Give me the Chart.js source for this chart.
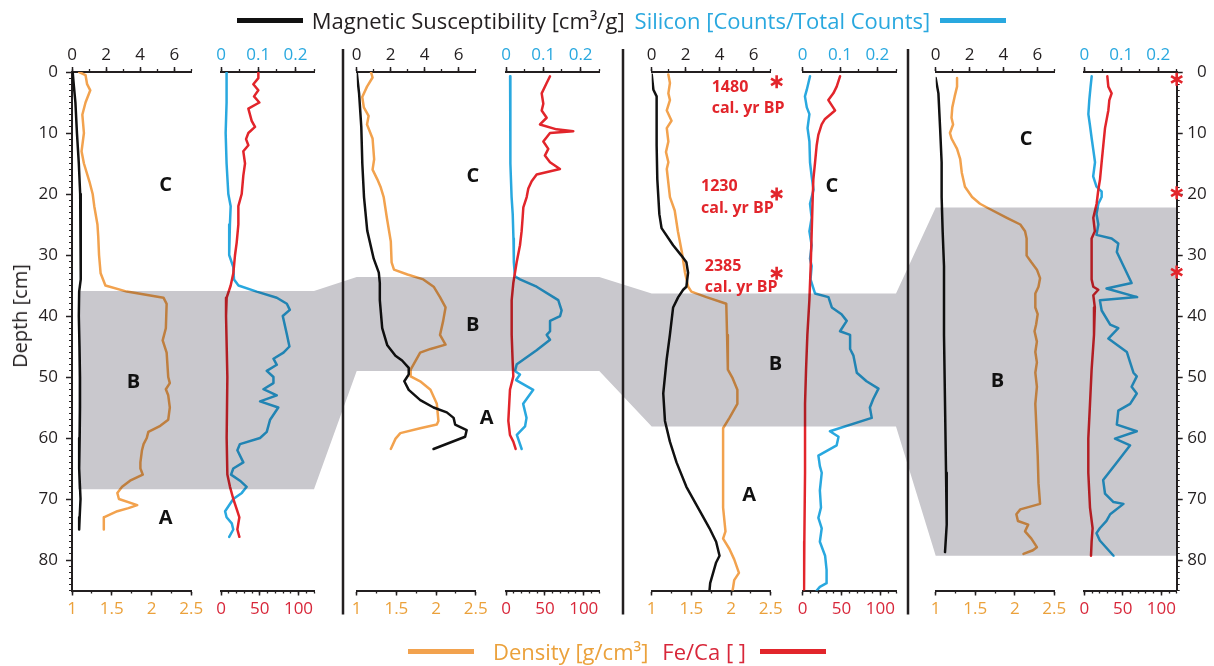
<!DOCTYPE html>
<html lang="en">
<head>
<meta charset="utf-8">
<title>Sediment core profiles</title>
<script src="https://cdn.jsdelivr.net/npm/chart.js@4.4.1/dist/chart.umd.min.js"></script>
<style>
  html, body { margin:0; padding:0; background:#ffffff; }
  #wrap { position:relative; width:1214px; height:666px; overflow:hidden; font-family:'Open Sans', sans-serif; }
  #wrap canvas { position:absolute; left:0; top:0; width:1214px; height:666px; }
  .panel { mix-blend-mode:multiply; z-index:1; }
  #bandCanvas { z-index:0; }
  #noteCanvas { z-index:2; }
  .legend { position:absolute; left:0; display:flex; justify-content:center; align-items:center; white-space:nowrap; font-size:22px; line-height:30px; z-index:3; }
  .sw { display:inline-block; width:66px; height:5px; }
  #ytitle { position:absolute; left:20px; top:316px; transform:translate(-50%,-50%) rotate(-90deg); font-size:20px; line-height:1; color:#231f20; white-space:nowrap; z-index:3; }
</style>
</head>
<body>
<div id="wrap">
  <canvas id="bandCanvas" width="1214" height="666"></canvas>
  <canvas class="panel" id="p0" width="1214" height="666"></canvas>
  <canvas class="panel" id="p1" width="1214" height="666"></canvas>
  <canvas class="panel" id="p2" width="1214" height="666"></canvas>
  <canvas class="panel" id="p3" width="1214" height="666"></canvas>
  <canvas class="panel" id="p4" width="1214" height="666"></canvas>
  <canvas class="panel" id="p5" width="1214" height="666"></canvas>
  <canvas class="panel" id="p6" width="1214" height="666"></canvas>
  <canvas class="panel" id="p7" width="1214" height="666"></canvas>
  <canvas id="noteCanvas" width="1214" height="666"></canvas>
  <div class="legend" style="top:5px;width:1243px;">
    <span class="sw" style="background:#111111;"></span>
    <span style="color:#231f20;margin:0 10px 0 9px;">Magnetic Susceptibility [cm³/g]</span>
    <span style="color:#29a8df;margin-right:10px;">Silicon [Counts/Total Counts]</span>
    <span class="sw" style="background:#29a8df;"></span>
  </div>
  <div class="legend" style="top:636px;width:1234px;">
    <span class="sw" style="background:#f2a24e;"></span>
    <span style="color:#eba13b;margin:0 14px 0 19px;">Density [g/cm³]</span>
    <span style="color:#d8273a;margin-right:14px;">Fe/Ca [ ]</span>
    <span class="sw" style="background:#e2252b;"></span>
  </div>
  <div id="ytitle">Depth [cm]</div>
</div>
<script>
// ---------------- DATA ----------------
// Core 1
const c1MsDepth  = [0,2,5,10,15,20,25,30,34,36,40,45,50,55,60,65,70,73,75];
const c1Ms       = [0.04,0.1,0.2,0.29,0.4,0.48,0.5,0.52,0.52,0.42,0.4,0.44,0.47,0.47,0.45,0.42,0.5,0.45,0.42];
const c1DenDepth = [0,0.5,2,3,5,7,10,13,15,18,20,22,25,27,30,33,35,36,37,38,42,44,46,50,51,52,53,55,57,58,59,60,61,62,64,65,66,67,68,69,70,71,71.5,72,73,75];
const c1Den      = [1.09,1.17,1.19,1.23,1.17,1.13,1.15,1.12,1.15,1.22,1.26,1.28,1.32,1.33,1.34,1.36,1.42,1.69,2.15,2.19,2.18,2.14,2.19,2.21,2.23,2.18,2.21,2.23,2.21,2.11,1.96,1.94,1.9,1.88,1.86,1.86,1.89,1.73,1.63,1.57,1.59,1.82,1.71,1.57,1.4,1.4];
const c1SiDepth  = [0,5,10,15,20,22,25,30,32,34,35,36,37,38,39,40,43,45,46,47,48,49,50,51,52,53,54,55,57,59,60,61,62,64,65,66,67,68,69,70,72,73,74,75,76.2];
const c1Si       = [0.015,0.015,0.0125,0.015,0.0197,0.026,0.024,0.022,0.033,0.035,0.047,0.096,0.15,0.177,0.185,0.166,0.177,0.184,0.168,0.141,0.15,0.123,0.141,0.141,0.114,0.15,0.105,0.154,0.132,0.123,0.105,0.051,0.044,0.06,0.033,0.027,0.051,0.069,0.056,0.033,0.011,0.015,0.029,0.033,0.022];
const c1FeDepth  = [0,1,2,3,4,5,6,8,9,10,11,12,13,15,17,20,22,25,28,30,33,35,37,40,50,60,66,68,70,72,73,74,75,76.2];
const c1Fe       = [48.2,48.2,41.7,48.2,42.6,49.5,35.3,39.6,43.9,35.3,32.3,35.3,28.8,31,28.8,26.7,22.4,22.4,20.2,18.1,15.9,12.5,7.3,6.5,8.2,7.3,8.2,11.6,15.9,21.1,23.7,22.4,21.1,23.7];
// Core 2
const c2MsDepth  = [0,3.5,9,15,20.5,26,30.6,32.9,34.6,37.4,42,44.8,46.5,47.3,48.5,49.6,50.7,52.1,53.8,55,55.8,56.7,57.8,58.7,59.8,61.8];
const c2Ms       = [0,0.14,0.27,0.33,0.43,0.62,1.0,1.3,1.36,1.36,1.5,1.8,2.28,2.67,3.06,3.06,2.8,3.06,3.74,4.52,5.3,5.7,5.79,6.47,6.38,4.52];
const c2DenDepth = [0,0.9,2.4,4.1,5.8,7.2,8.6,10.9,14.3,16,17.6,18.8,20.5,23.9,27.8,31.2,32.4,33.2,34,35.2,36.9,38.6,40.8,43.1,44.7,45.4,46,48.8,49.9,50.7,52.1,54.4,57.2,57.8,58.4,59.2,60.1,61.8];
const c2Den      = [1.18,1.2,1.13,1.07,1.09,1.15,1.13,1.2,1.22,1.2,1.26,1.3,1.34,1.38,1.43,1.44,1.47,1.64,1.84,1.97,2.05,2.12,2.09,2.05,2.12,1.93,1.8,1.68,1.68,1.8,1.93,2.01,2.03,2.01,1.8,1.55,1.49,1.43];
const c2SiDepth  = [0.7,9,15,20.5,23.3,27.3,31.2,33.5,34,35.2,36.9,37.4,39.1,40,40.8,42.5,43.1,43.9,45.6,47.9,49,49.6,50.5,52.1,54.4,56.7,58.1,59.5,61.8];
const c2Si       = [0.011,0.0125,0.011,0.015,0.018,0.02,0.021,0.024,0.0375,0.082,0.127,0.14,0.149,0.145,0.118,0.118,0.109,0.118,0.082,0.029,0.024,0.0375,0.027,0.073,0.046,0.055,0.051,0.029,0.042];
const c2FeDepth  = [0.7,1.8,3.5,5.2,6.3,7.5,8.6,9.4,9.7,10,11.4,12.6,13.7,14.8,15.9,16.8,17.9,19.1,20.5,22.2,23.9,26.1,28.4,31.2,34.6,37.4,43.1,47.6,49.9,52.1,57.2,59.5,60.6,61.8];
const c2Fe       = [56.6,52.3,45.9,48,45.9,52.3,43.7,65,86.6,56.6,48,54.4,50,56.6,69.4,39.4,33,28.7,26.6,22.3,21.4,20.1,18,13.7,9.4,7.3,7.3,8.6,9.4,5.1,3,5.1,9.4,12.4];
// Core 3
const c3MsDepth  = [0.4,2.9,4,12,17.6,23.3,25.6,28.4,30.1,31.2,32.9,35.2,35.7,36.9,38.6,43.1,47.1,52.7,57.2,60.6,64,68,71.9,74.8,77,79.3,80.4,83.8,85];
const c3Ms       = [0,0.1,0.29,0.29,0.33,0.45,0.58,1.26,1.75,2.04,2.14,2.04,1.85,1.56,1.26,1.07,0.88,0.68,0.78,1.07,1.46,2.04,2.82,3.4,3.79,3.99,3.79,3.44,3.4];
const c3DenDepth = [0.4,1.8,3.5,4.6,6.3,8,9.2,11.4,13.1,14.8,15.9,20.5,22.7,26.1,29.5,32.9,35.2,36,36.9,38,43.1,48.8,50.2,52.1,54.4,56.7,58.4,65.7,71.4,75.3,76.5,78.2,79.9,82.1,83.3,85];
const c3Den      = [1.21,1.23,1.21,1.23,1.19,1.25,1.19,1.21,1.18,1.21,1.19,1.23,1.29,1.33,1.38,1.42,1.46,1.5,1.69,1.94,1.95,1.96,2.02,2.08,2.08,1.98,1.9,1.9,1.9,1.93,1.9,1.98,2.04,2.1,2.04,2.02];
const c3SiDepth  = [0.7,2.9,4,5.8,6.9,9.2,11.4,14.8,17.1,19.3,21.6,23.9,26.1,28.4,30.6,31.8,34,36.3,36.9,38.6,39.7,40.8,42.5,43.1,45.4,46.5,49.3,50.7,51.9,53.6,55,56.7,58.9,59.8,61.2,62.9,64.6,65.7,68.6,71.4,73.1,74.8,77,79.3,81.6,83.8,84.4,85];
const c3Si       = [0.0196,0.011,0.006,0.011,0.018,0.013,0.018,0.0196,0.024,0.029,0.0196,0.024,0.018,0.024,0.0196,0.024,0.021,0.033,0.069,0.078,0.104,0.118,0.1,0.127,0.127,0.136,0.145,0.171,0.203,0.189,0.18,0.185,0.073,0.096,0.091,0.042,0.046,0.051,0.046,0.049,0.042,0.051,0.046,0.06,0.064,0.064,0.046,0.0375];
const c3FeDepth  = [0.7,2.4,3.5,4.6,6.3,7.7,8.6,10.3,12,14.8,17.6,20.5,26.1,31.8,37.4,43.1,48.8,54.4,65.7,77,85];
const c3Fe       = [48,43.7,39.4,33,41.6,28.7,24.4,20.1,18,15.9,13.7,12.9,11.6,10.3,8.6,6,4.3,3,3,2.1,1.7];
// Core 4
const c4MsDepth  = [1,3.5,9.2,14.8,20.5,26.1,31.8,43.1,54.4,65.7,74.2,78.7];
const c4Ms       = [0,0.16,0.26,0.35,0.35,0.41,0.49,0.49,0.55,0.61,0.65,0.55];
const c4DenDepth = [1,2.4,4,5.8,7.5,8.6,10,10.9,12.6,14.3,16.5,18.8,20.5,21.6,22.5,23.9,25,26.1,27.3,30.1,31.2,32.4,33.8,35.2,36.3,38.6,39.7,41.4,42.5,44.2,45.9,47.6,49.3,51.6,54.4,60.1,62.9,67.4,70.8,71.7,72.5,73.6,74.2,75.3,76.5,77.9,78.4,79];
const c4Den      = [1.27,1.27,1.24,1.21,1.2,1.22,1.18,1.2,1.27,1.31,1.33,1.37,1.46,1.56,1.69,1.9,2.07,2.13,2.15,2.15,2.21,2.28,2.32,2.3,2.26,2.26,2.29,2.27,2.25,2.28,2.26,2.28,2.26,2.28,2.26,2.28,2.29,2.3,2.32,2.07,2.02,2.04,2.17,2.13,2.21,2.28,2.23,2.11];
const c4SiDepth  = [0.7,2.4,4.6,6.9,8.6,10.9,12.6,14.8,17.1,18.8,19.6,20.5,21.6,23.3,25,26.7,27.3,28.1,29.5,34.6,35.5,36.9,37.4,39.1,41.4,42,43.7,45.9,47.6,49.3,49.9,51.6,52.7,54.4,55.5,57.8,58.9,60.1,61.2,64,66.9,69.1,70.5,70.8,72.5,73.6,74.8,75.6,76.8,79.3];
const c4Si       = [0.02,0.017,0.0135,0.011,0.015,0.02,0.024,0.029,0.024,0.033,0.047,0.047,0.038,0.033,0.038,0.033,0.074,0.092,0.088,0.128,0.06,0.143,0.042,0.047,0.07,0.092,0.065,0.115,0.124,0.133,0.142,0.128,0.142,0.124,0.092,0.088,0.142,0.083,0.124,0.088,0.051,0.056,0.079,0.106,0.07,0.06,0.042,0.033,0.042,0.079];
const c4FeDepth  = [0.7,2.4,3.5,4.6,6.3,9.2,12,14.8,17.6,19.3,21.6,23.9,26.1,27.3,34,35.2,35.7,36.6,38.6,43.1,48.8,54.4,60.1,65.7,71.4,74.8,77,79.3];
const c4Fe       = [29.9,31.2,35.5,32.5,31.2,26.9,24.7,22.5,20.4,18.2,16,11.7,13.7,9.5,9.5,11.7,18.2,11.7,13.7,12.6,9.5,7.4,5.2,5.2,7.4,10.8,9.5,8.7];

// Shaded unit B (depth range per core, cm)
const bandTop    = [35.9, 33.6, 36.3, 22.2];
const bandBottom = [68.4, 49.0, 58.1, 79.3];

// Unit letters: text, panel index, axis, axis value, depth
const zoneText  = ['C','B','A', 'C','B','A', 'C','B','A', 'C','B'];
const zonePanel = [0,0,0, 2,2,2, 5,4,4, 6,6];
const zoneAxis  = ['xt','xt','xt','xt','xt','xt','xt','xt','xt','xt','xt'];
const zoneValue = [5.5,3.6,5.5, 6.83,6.83,7.65, 0.078,7.28,5.73, 5.33,3.64];
const zoneDepth = [18.5,50.8,73.2, 17.1,41.5,56.7, 18.8,47.9,69.4, 11.0,50.7];

// Radiocarbon dates (core 3) and marker depths
const dateText   = ['1480','1230','2385'];
const dateMs     = [3.53, 2.9, 3.12];
const dateDepth  = [2.5, 18.8, 31.8];
const c3StarDepth = [1.6, 20.0, 33.0];
const c4StarDepth = [1.2, 19.8, 32.8];

// Axis tick settings
const msRange = [0, 7], msMinor = 1, msMajor = 2;
const denRange = [1, 2.5], denMinor = 0.25, denMajor = 0.5;
const siRange = [0, 0.25], siMinor = 0.05, siMajor = 0.1;
const feRange = [0, 120], feMinor = 10, feMajor = 50;
const depthRange = [0, 85], depthMinor = 1, depthMajor = 10;

// ---------------- LAYOUT / STYLE ----------------
const W = 1214, H = 666;
const PANEL_X = [[72,191.3],[221,314],[356.7,475.7],[506,599.3],[651.7,770.7],[802.7,896],[935.7,1054.3],[1084.3,1176.7]];
const SEP_X = [343, 623, 908];
const PLOT_TOP = 72, PLOT_BOTTOM = 590.5;
const TOP_BOX = 30, BOT_BOX = 30, Y_BOX_L = 40, Y_BOX_R = 30;
const FAMILY = "'Open Sans', sans-serif";
const INK = '#231f20';
const C_MS = '#111111', C_DEN = '#f2a24e', C_SI = '#29a8df', C_FE = '#e2252b';
const C_DEN_T = '#eba13b', C_FE_T = '#d8273a', C_SI_T = '#29a8df';
const BAND = '#c9c8cd';

Chart.defaults.font.family = FAMILY;

const plainNumber = v => String(Math.round(v * 1000) / 1000);

function xPair(id, pos, range, minor, major, labelColor) {
  const common = { type:'linear', axis:'x', position:pos, min:range[0], max:range[1],
    border:{ display:true, color:INK, width:2 } };
  const s = {};
  s[id] = Object.assign({}, common, {
    weight:1,
    afterFit: sc => { sc.height = pos === 'top' ? TOP_BOX : BOT_BOX; },
    grid:{ drawOnChartArea:false, drawTicks:true, tickLength:5, tickWidth:1.5, tickColor:INK, color:INK },
    ticks:{ stepSize:major, includeBounds:false, autoSkip:false, maxRotation:0, maxTicksLimit:1000,
            padding: pos === 'top' ? 2 : 3, color:labelColor, font:{ size:17, family:FAMILY },
            callback: plainNumber }
  });
  s[id + 'm'] = Object.assign({}, common, {
    weight:0,
    afterFit: sc => { sc.height = 0; },
    grid:{ drawOnChartArea:false, drawTicks:true, tickLength:3, tickWidth:1.3, tickColor:INK, color:INK },
    ticks:{ stepSize:minor, display:false, autoSkip:false, includeBounds:false, maxTicksLimit:1000 }
  });
  return s;
}

function yPair(pos, show) {
  const common = { type:'linear', axis:'y', position:pos, display:show, reverse:true,
    min:depthRange[0], max:depthRange[1], border:{ display:true, color:INK, width:2 } };
  return {
    y: Object.assign({}, common, {
      weight:1,
      afterFit: sc => { sc.width = sc.options.display ? (pos === 'left' ? Y_BOX_L : Y_BOX_R) : 0; },
      grid:{ drawOnChartArea:false, drawTicks:true, tickLength:6, tickWidth:1.5, tickColor:INK, color:INK },
      ticks:{ stepSize:depthMajor, includeBounds:false, autoSkip:false, maxTicksLimit:1000,
              padding: pos === 'left' ? 8 : 0, crossAlign: pos === 'left' ? 'near' : 'far',
              color:INK, font:{ size:17, family:FAMILY }, callback: plainNumber }
    }),
    ym: Object.assign({}, common, {
      weight:0,
      afterFit: sc => { sc.width = 0; },
      grid:{ drawOnChartArea:false, drawTicks:true, tickLength:3, tickWidth:1.2, tickColor:INK, color:INK },
      ticks:{ stepSize:depthMinor, display:false, autoSkip:false, includeBounds:false, maxTicksLimit:1000 }
    })
  };
}

function line(depths, vals, xid, color) {
  return {
    data: depths.map((d, k) => ({ x: vals[k], y: d })),
    xAxisID: xid, yAxisID: 'y',
    borderColor: color, backgroundColor: color, borderWidth: 2.5,
    pointRadius: 0, tension: 0, fill: false,
    borderJoinStyle: 'round', borderCapStyle: 'round'
  };
}

const msSeries  = [[c1MsDepth,c1Ms],[c2MsDepth,c2Ms],[c3MsDepth,c3Ms],[c4MsDepth,c4Ms]];
const denSeries = [[c1DenDepth,c1Den],[c2DenDepth,c2Den],[c3DenDepth,c3Den],[c4DenDepth,c4Den]];
const siSeries  = [[c1SiDepth,c1Si],[c2SiDepth,c2Si],[c3SiDepth,c3Si],[c4SiDepth,c4Si]];
const feSeries  = [[c1FeDepth,c1Fe],[c2FeDepth,c2Fe],[c3FeDepth,c3Fe],[c4FeDepth,c4Fe]];

const PANELS = [
  { core:0, kind:'left', yAxis:'left' }, { core:0, kind:'right' },
  { core:1, kind:'left' }, { core:1, kind:'right' },
  { core:2, kind:'left' }, { core:2, kind:'right' },
  { core:3, kind:'left' }, { core:3, kind:'right', yAxis:'right' }
];

const panels = PANELS.map((p, i) => {
  const [x0, x1] = PANEL_X[i];
  const isLeft = p.kind === 'left';
  const showY = !!p.yAxis;
  const yPos = p.yAxis || 'left';
  const c = p.core;
  const scales = Object.assign({},
    yPair(yPos, showY),
    isLeft ? xPair('xt','top',msRange,msMinor,msMajor,INK) : xPair('xt','top',siRange,siMinor,siMajor,C_SI_T),
    isLeft ? xPair('xb','bottom',denRange,denMinor,denMajor,C_DEN_T) : xPair('xb','bottom',feRange,feMinor,feMajor,C_FE_T)
  );
  const datasets = isLeft
    ? [ line(msSeries[c][0], msSeries[c][1], 'xt', C_MS), line(denSeries[c][0], denSeries[c][1], 'xb', C_DEN) ]
    : [ line(feSeries[c][0], feSeries[c][1], 'xb', C_FE), line(siSeries[c][0], siSeries[c][1], 'xt', C_SI) ];
  const padL = x0 - (showY && yPos === 'left' ? Y_BOX_L : 0);
  const padR = W - x1 - (showY && yPos === 'right' ? Y_BOX_R : 0);
  return new Chart(document.getElementById('p' + i), {
    type: 'line',
    data: { datasets },
    options: {
      indexAxis: 'y', responsive: false, animation: false, devicePixelRatio: 1, events: [],
      layout: { padding: { left: padL, right: padR, top: PLOT_TOP - TOP_BOX, bottom: H - PLOT_BOTTOM - BOT_BOX } },
      plugins: { legend: { display:false }, tooltip: { enabled:false } },
      scales
    }
  });
});

// Shaded band + core separators (bottom layer)
const bandPlugin = {
  id: 'bands',
  afterDraw(chart) {
    const ctx = chart.ctx;
    ctx.save();
    const topPts = [], botPts = [];
    for (let i = 0; i < 4; i++) {
      const L = panels[2*i], R = panels[2*i+1];
      const ys = L.scales.y;
      const xl = L.chartArea.left + (i === 0 ? 6 : 0);
      const xr = R.chartArea.right;
      const yt = ys.getPixelForValue(bandTop[i]);
      const yb = ys.getPixelForValue(bandBottom[i]);
      topPts.push([xl, yt], [xr, yt]);
      botPts.push([xl, yb], [xr, yb]);
    }
    ctx.beginPath();
    topPts.forEach(([x, y], k) => k ? ctx.lineTo(x, y) : ctx.moveTo(x, y));
    botPts.reverse().forEach(([x, y]) => ctx.lineTo(x, y));
    ctx.closePath();
    ctx.fillStyle = BAND;
    ctx.fill();
    const ca = panels[0].chartArea;
    ctx.strokeStyle = INK;
    ctx.lineWidth = 2.5;
    SEP_X.forEach(x => {
      ctx.beginPath();
      ctx.moveTo(x, ca.top - 23);
      ctx.lineTo(x, ca.bottom + 24);
      ctx.stroke();
    });
    ctx.restore();
  }
};

function star(ctx, x, y, r) {
  ctx.beginPath();
  for (let a = 0; a < 3; a++) {
    const ang = Math.PI / 2 + a * Math.PI / 3;
    ctx.moveTo(x - r * Math.cos(ang), y - r * Math.sin(ang));
    ctx.lineTo(x + r * Math.cos(ang), y + r * Math.sin(ang));
  }
  ctx.lineWidth = 2.6;
  ctx.strokeStyle = C_FE;
  ctx.lineCap = 'butt';
  ctx.stroke();
}

// Text annotations (top layer)
const notePlugin = {
  id: 'notes',
  afterDraw(chart) {
    const ctx = chart.ctx;
    ctx.save();
    ctx.font = '700 20px ' + FAMILY;
    ctx.fillStyle = '#111111';
    ctx.textAlign = 'center';
    ctx.textBaseline = 'middle';
    zoneText.forEach((t, k) => {
      const p = panels[zonePanel[k]];
      ctx.fillText(t, p.scales[zoneAxis[k]].getPixelForValue(zoneValue[k]), p.scales.y.getPixelForValue(zoneDepth[k]));
    });
    const p3 = panels[4];
    ctx.font = '700 16px ' + FAMILY;
    ctx.fillStyle = C_FE;
    ctx.textAlign = 'left';
    dateText.forEach((t, k) => {
      const x = p3.scales.xt.getPixelForValue(dateMs[k]);
      ctx.fillText(t, x, p3.scales.y.getPixelForValue(dateDepth[k]));
      ctx.fillText('cal. yr BP', x, p3.scales.y.getPixelForValue(dateDepth[k] + 3.5));
    });
    c3StarDepth.forEach(d => star(ctx, p3.scales.xt.getPixelForValue(7.35), p3.scales.y.getPixelForValue(d), 6.5));
    const p8 = panels[7];
    c4StarDepth.forEach(d => star(ctx, p8.scales.xb.getPixelForValue(feRange[1]), p8.scales.y.getPixelForValue(d), 6.5));
    ctx.restore();
  }
};

const emptyOpts = {
  responsive:false, animation:false, devicePixelRatio:1, events:[],
  plugins:{ legend:{display:false}, tooltip:{enabled:false} },
  scales:{ x:{ display:false }, y:{ display:false } }
};
new Chart(document.getElementById('bandCanvas'), { type:'scatter', data:{ datasets:[] }, options: emptyOpts, plugins:[bandPlugin] });
new Chart(document.getElementById('noteCanvas'), { type:'scatter', data:{ datasets:[] }, options: emptyOpts, plugins:[notePlugin] });
</script>
</body>
</html>
